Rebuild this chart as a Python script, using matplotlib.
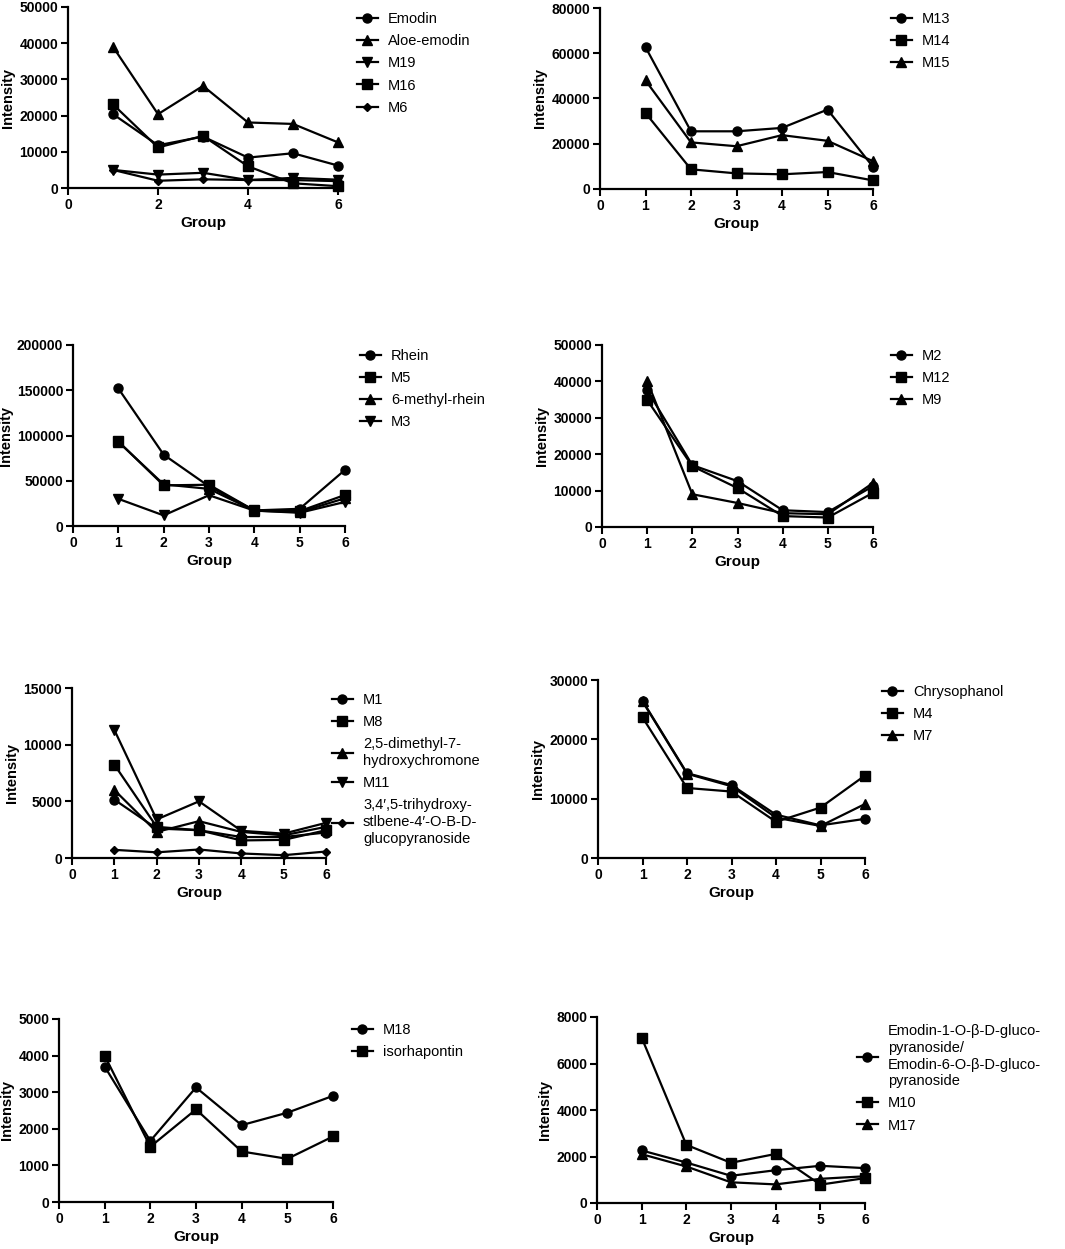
import numpy as np
import matplotlib
matplotlib.use('Agg')
import matplotlib.pyplot as plt

plt.rcParams['font.family'] = ['Liberation Sans', 'DejaVu Sans']

# ── Data (intensity per group 1..6) ───────────────────────────────────────────
groups = [1, 2, 3, 4, 5, 6]

# panel A
emodin      = [20400, 11800, 14200, 8400, 9600, 6200]
aloe_emodin = [39000, 20400, 28200, 18100, 17700, 12600]
m19         = [5000, 3700, 4200, 2200, 2800, 2300]
m16         = [23100, 11200, 14400, 6000, 1300, 500]
m6          = [5000, 2000, 2400, 2200, 2200, 1900]

# panel B
m13 = [62700, 25500, 25500, 27000, 35100, 9800]
m14 = [33600, 8700, 6900, 6500, 7500, 3800]
m15 = [48000, 20600, 18900, 23800, 21300, 12300]

# panel C
rhein        = [152000, 78800, 43800, 17200, 19000, 62000]
m5           = [93400, 44900, 45600, 17200, 16400, 34300]
methyl_rhein = [93000, 46000, 41000, 17000, 15300, 30700]
m3           = [30000, 11700, 34000, 17000, 14600, 26600]

# panel D
m2  = [37600, 17000, 12600, 4600, 4100, 11200]
m12 = [34900, 16700, 10700, 3000, 2600, 9400]
m9  = [40100, 9000, 6600, 3800, 3500, 12100]

# panel E
m1        = [5150, 2600, 2450, 1850, 1850, 2250]
m8        = [8240, 2750, 2450, 1550, 1600, 2450]
chromone  = [6000, 2300, 3250, 2300, 2000, 2750]
m11       = [11300, 3400, 5000, 2400, 2150, 3100]
stilbene  = [720, 500, 750, 400, 250, 570]

# panel F
chrysophanol = [26500, 14300, 12300, 7300, 5500, 6600]
m4           = [23700, 11800, 11200, 6100, 8500, 13900]
m7           = [26400, 14200, 12100, 6800, 5400, 9100]

# panel G
m18          = [3700, 1670, 3130, 2100, 2440, 2900]
isorhapontin = [4000, 1510, 2530, 1380, 1180, 1790]

# panel H
emodin_gluco = [2260, 1740, 1170, 1410, 1600, 1500]
m10          = [7110, 2500, 1730, 2110, 790, 1070]
m17          = [2100, 1570, 890, 800, 1040, 1150]

W, H = 1065, 1249
fig = plt.figure(figsize=(W / 100, H / 100), dpi=100)


def px_axes(left, right, top, bottom):
    return fig.add_axes([left / W, 1 - bottom / H, (right - left) / W, (bottom - top) / H])


MK = {'o': 6.5, 's': 6.5, '^': 6.5, 'v': 6.5, 'D': 4.2}


def panel(box, series, ymax, ystep, xticks, leg_text_x, leg_top):
    ax = px_axes(*box)
    for vals, marker, label in series:
        ax.plot(groups, vals, color='black', lw=1.6, marker=marker,
                markersize=MK[marker], label=label, clip_on=False, zorder=3)
    ax.set_xlim(0, 6)
    ax.set_ylim(0, ymax)
    ax.set_xticks(xticks)
    ax.set_yticks(np.arange(0, ymax + 1, ystep))
    for s in ['top', 'right']:
        ax.spines[s].set_visible(False)
    for s in ['left', 'bottom']:
        ax.spines[s].set_linewidth(1.6)
    ax.tick_params(width=1.5, length=5, labelsize=10, pad=2)
    for lbl in ax.get_xticklabels() + ax.get_yticklabels():
        lbl.set_fontweight('bold')
    ax.set_xlabel('Group', fontsize=11, fontweight='bold', labelpad=3)
    ax.set_ylabel('Intensity', fontsize=10.5, fontweight='bold', labelpad=3)
    fs = 10.5
    fs_px = fs * 100 / 72
    hl, htp = 1.45, 0.7
    ax_x = leg_text_x - (hl + htp) * fs_px
    leg = ax.legend(loc='upper left', frameon=False, fontsize=fs, handlelength=hl,
                    handletextpad=htp, labelspacing=0.56, borderpad=0, borderaxespad=0,
                    bbox_to_anchor=(ax_x / W, 1 - leg_top / H),
                    bbox_transform=fig.transFigure)
    for t in leg.get_texts():
        t.set_linespacing(1.25)
    return ax


panel((68, 338, 7, 188),
      [(emodin, 'o', 'Emodin'), (aloe_emodin, '^', 'Aloe-emodin'),
       (m19, 'v', 'M19'), (m16, 's', 'M16'), (m6, 'D', 'M6')],
      50000, 10000, [0, 2, 4, 6], 388, 12)

panel((600, 873, 8, 189),
      [(m13, 'o', 'M13'), (m14, 's', 'M14'), (m15, '^', 'M15')],
      80000, 20000, range(7), 922, 12)

panel((73, 345, 345, 526),
      [(rhein, 'o', 'Rhein'), (m5, 's', 'M5'),
       (methyl_rhein, '^', '6-methyl-rhein'), (m3, 'v', 'M3')],
      200000, 50000, range(7), 391, 349)

panel((602, 873, 345, 527),
      [(m2, 'o', 'M2'), (m12, 's', 'M12'), (m9, '^', 'M9')],
      50000, 10000, range(7), 922, 349)

panel((72, 326, 688, 858),
      [(m1, 'o', 'M1'), (m8, 's', 'M8'),
       (chromone, '^', '2,5-dimethyl-7-\nhydroxychromone'),
       (m11, 'v', 'M11'),
       (stilbene, 'D', '3,4\u2032,5-trihydroxy-\nstlbene-4\u2032-O-B-D-\nglucopyranoside')],
      15000, 5000, range(7), 363, 693)

panel((598, 865, 680, 858),
      [(chrysophanol, 'o', 'Chrysophanol'), (m4, 's', 'M4'), (m7, '^', 'M7')],
      30000, 10000, range(7), 913, 685)

panel((59, 333, 1019, 1202),
      [(m18, 'o', 'M18'), (isorhapontin, 's', 'isorhapontin')],
      5000, 1000, range(7), 383, 1023)

panel((597, 865, 1017, 1203),
      [(emodin_gluco, 'o', 'Emodin-1-O-\u03b2-D-gluco-\npyranoside/\nEmodin-6-O-\u03b2-D-gluco-\npyranoside'),
       (m10, 's', 'M10'), (m17, '^', 'M17')],
      8000, 2000, range(7), 888, 1024)

fig.savefig('out.png', dpi=100)
